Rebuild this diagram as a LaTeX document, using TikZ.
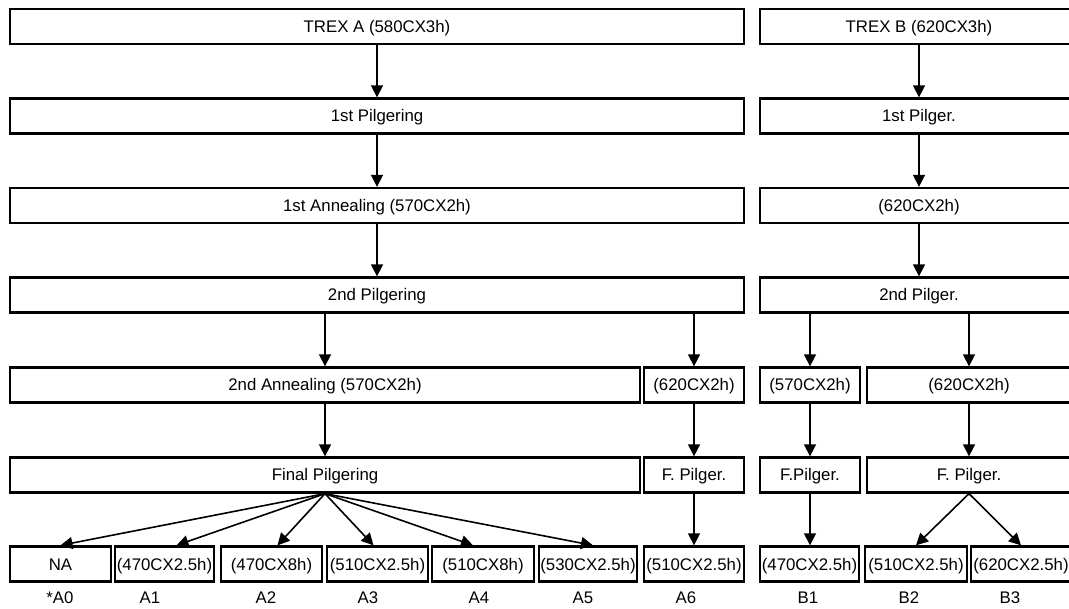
\documentclass[tikz,border=0pt]{standalone}
\usepackage{fontspec}
\setmainfont{Liberation Sans}
\usetikzlibrary{arrows.meta}
\begin{document}
\begin{tikzpicture}[x=1pt,y=-1pt,
  box/.style={draw, line width=2.3pt, minimum height=35pt, inner sep=0pt,
    text height=12pt, text depth=0pt, font=\fontsize{16.8}{20}\selectfont},
  arr/.style={line width=1.6pt, -{Triangle[length=12pt,width=12pt]}},
  lab/.style={inner sep=0pt, text height=12pt, text depth=0pt, font=\fontsize{16.8}{20}\selectfont}]
\path[use as bounding box] (0,0) rectangle (1069,609);
\clip (0,0) rectangle (1069,609);
% column A (left)
\node[box, minimum width=734pt] (ta)   at (377,26.5) {TREX A (580CX3h)};
\node[box, minimum width=734pt] (p1a)  at (377,116)  {1st Pilgering};
\node[box, minimum width=734pt] (an1a) at (377,205.5) {1st Annealing (570CX2h)};
\node[box, minimum width=734pt] (p2a)  at (377,295)  {2nd Pilgering};
\node[box, minimum width=630pt] (an2a) at (325,385) {2nd Annealing (570CX2h)};
\node[box, minimum width=100pt] (an2c) at (694,385)  {(620CX2h)};
\node[box, minimum width=630pt] (fpa)  at (325,475) {Final Pilgering};
\node[box, minimum width=100pt] (fpc)  at (694,475)  {F. Pilger.};
% column B (right)
\node[box, minimum width=318pt] (tb)   at (919,26.5) {TREX B (620CX3h)};
\node[box, minimum width=318pt] (p1b)  at (919,116)  {1st Pilger.};
\node[box, minimum width=318pt] (an1b) at (919,205.5) {(620CX2h)};
\node[box, minimum width=318pt] (p2b)  at (919,295)  {2nd Pilger.};
\node[box, minimum width=100pt] (b5a)  at (810,385) {(570CX2h)};
\node[box, minimum width=204pt] (b5b)  at (969,385)  {(620CX2h)};
\node[box, minimum width=100pt] (fb1)  at (810,475) {F.Pilger.};
\node[box, minimum width=204pt] (fb2)  at (969,475)  {F. Pilger.};
% bottom row
\node[box, minimum width=101pt] (na) at (60.5,564)  {NA};
\node[box, minimum width=99pt]  (a1) at (164.5,564) {(470CX2.5h)};
\node[box, minimum width=101pt] (a2) at (271.5,564) {(470CX8h)};
\node[box, minimum width=101pt] (a3) at (377.5,564) {(510CX2.5h)};
\node[box, minimum width=102pt] (a4) at (483,564)   {(510CX8h)};
\node[box, minimum width=98pt]  (a5) at (588,564)   {(530CX2.5h)};
\node[box, minimum width=100pt] (a6) at (694,564)   {(510CX2.5h)};
\node[box, minimum width=99pt]  (b1) at (809.5,564) {(470CX2.5h)};
\node[box, minimum width=102pt] (b2) at (916,564)   {(510CX2.5h)};
\node[box, minimum width=100pt] (b3) at (1021,564)  {(620CX2.5h)};
% labels
\node[lab] (l0) at (60,597)   {*A0};
\node[lab] (l1) at (150,597)  {A1};
\node[lab] (l2) at (266,597)  {A2};
\node[lab] (l3) at (368,597)  {A3};
\node[lab] (l4) at (479,597)  {A4};
\node[lab] (l5) at (583,597)  {A5};
\node[lab] (l6) at (686,597)  {A6};
\node[lab] (l7) at (808,597)  {B1};
\node[lab] (l8) at (909,597)  {B2};
\node[lab] (l9) at (1010,597) {B3};
% arrows A
\draw[arr] (ta.south) -- (p1a.north);
\draw[arr] (p1a.south) -- (an1a.north);
\draw[arr] (an1a.south) -- (p2a.north);
\draw[arr] (p2a.south -| an2a.north) -- (an2a.north);
\draw[arr] (p2a.south -| an2c.north) -- (an2c.north);
\draw[arr] (an2a.south) -- (fpa.north);
\draw[arr] (an2c.south) -- (fpc.north);
\draw[arr] (fpc.south) -- (a6.north);
\draw[arr] (fpa.south) -- (na.north);
\draw[arr] (fpa.south) -- ([xshift=12pt]a1.north);
\draw[arr] (fpa.south) -- ([xshift=6pt]a2.north);
\draw[arr] (fpa.south) -- ([xshift=-4pt]a3.north);
\draw[arr] (fpa.south) -- ([xshift=-10pt]a4.north);
\draw[arr] (fpa.south) -- ([xshift=5pt]a5.north);
% arrows B
\draw[arr] (tb.south) -- (p1b.north);
\draw[arr] (p1b.south) -- (an1b.north);
\draw[arr] (an1b.south) -- (p2b.north);
\draw[arr] (p2b.south -| b5a.north) -- (b5a.north);
\draw[arr] (p2b.south -| b5b.north) -- (b5b.north);
\draw[arr] (b5a.south) -- (fb1.north);
\draw[arr] (b5b.south) -- (fb2.north);
\draw[arr] (fb1.south) -- (fb1.south |- b1.north);
\draw[arr] (fb2.south) -- (b2.north);
\draw[arr] (fb2.south) -- (b3.north);
\end{tikzpicture}
\end{document}
